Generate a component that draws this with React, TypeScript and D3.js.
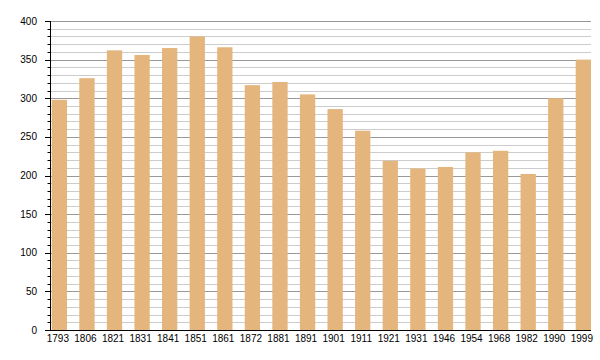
import React from "react";
import * as d3 from "d3";

const years = ["1793","1806","1821","1831","1841","1851","1861","1872","1881","1891","1901","1911","1921","1931","1946","1954","1968","1982","1990","1999"];
const population = [298,326,362,356,365,380,366,317,321,305,286,258,219,209,211,230,232,202,300,350];
const yMajorTicks = [0,50,100,150,200,250,300,350,400];

export default function App() {
  const W = 600, H = 360;
  const left = 50, right = 591, top = 21, bottom = 330;
  const x = d3.scaleBand<string>().domain(years).range([51.7, 591]).paddingInner(0.445).paddingOuter(0);
  const y = d3.scaleLinear().domain([0, 400]).range([bottom, top]);
  const minor = d3.range(0, 401, 10);
  return (
    <svg width={W} height={H} style={{ position: "absolute", left: 0, top: 0, display: "block" }} fontFamily="Liberation Sans, Arial, sans-serif">
      <rect width={W} height={H} fill="#fff" />
      {minor.map(v => (
        <line key={"g" + v} x1={left} x2={right} y1={Math.round(y(v)) + 0.5} y2={Math.round(y(v)) + 0.5}
          stroke={v % 50 === 0 ? "#999" : "#ccc"} strokeWidth={1} />
      ))}
      {years.map((yr, i) => (
        <rect key={yr} x={x(yr)} y={y(population[i])} width={x.bandwidth()} height={bottom - y(population[i])} fill="#e4b67e" />
      ))}
      {minor.map(v => (
        <line key={"t" + v} x1={v % 50 === 0 ? left - 5 : left - 2.5} x2={left} y1={Math.round(y(v)) + 0.5} y2={Math.round(y(v)) + 0.5} stroke="#000" />
      ))}
      <line x1={left + 0.5} x2={left + 0.5} y1={top} y2={bottom + 1} stroke="#000" />
      <line x1={left} x2={right} y1={bottom + 0.5} y2={bottom + 0.5} stroke="#000" />
      {yMajorTicks.map(v => (
        <text key={"l" + v} x={37} y={y(v) + 3.5} textAnchor="end" fontSize={10} fill="#000">{v}</text>
      ))}
      {years.map(yr => (
        <text key={"x" + yr} x={(x(yr) as number) + x.bandwidth() / 2 - 1.5} y={341.5} textAnchor="middle" fontSize={10} fill="#000">{yr}</text>
      ))}
    </svg>
  );
}
